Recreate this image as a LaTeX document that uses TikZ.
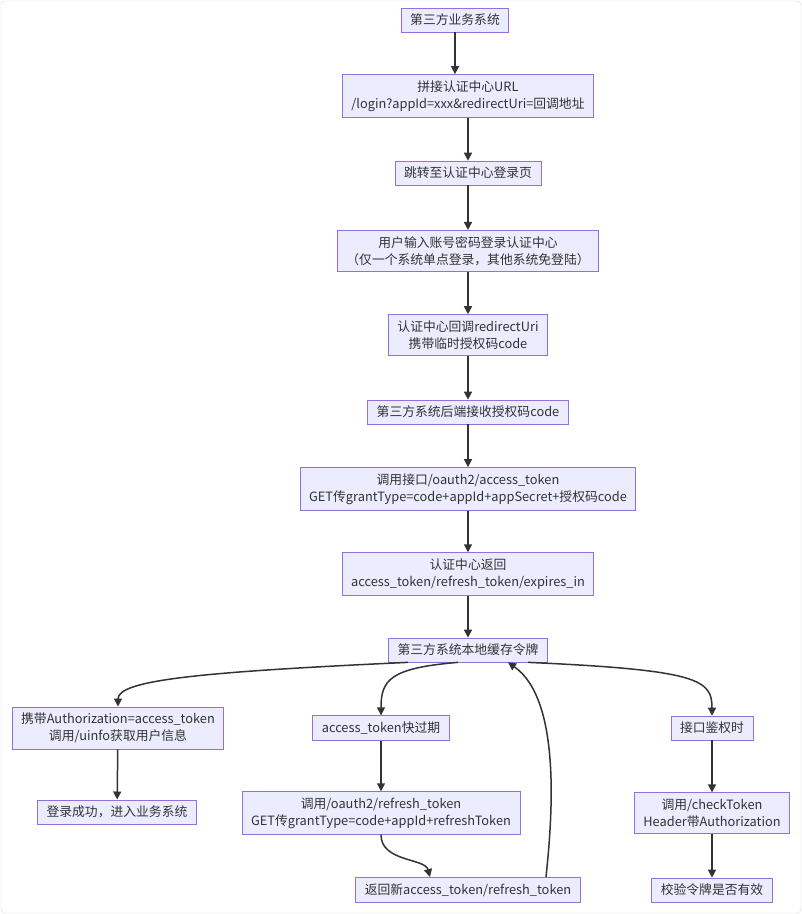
\documentclass[tikz,border=0pt]{standalone}
\usepackage{fontspec}
\setmainfont{Noto Sans CJK SC}
\usetikzlibrary{arrows.meta}
\definecolor{boxfill}{HTML}{ECECFF}
\definecolor{boxline}{HTML}{9370DB}
\definecolor{arr}{HTML}{333333}
\tikzset{
  box/.style={draw=boxline, fill=boxfill, line width=0.8pt, align=center, font=\fontsize{12.8}{17}\selectfont, inner xsep=9pt, inner ysep=6pt, text=arr},
  conn/.style={draw=arr, line width=1.5pt, -{Triangle[length=8pt,width=8pt]}}
}
\begin{document}
\begin{tikzpicture}[x=1pt,y=-1pt]
\useasboundingbox (0,0) rectangle (802,914);
\draw[rounded corners=4pt, draw=gray!30, fill=white] (1,1) rectangle (801,913);
\node[box] (n1) at (455,20) {第三方业务系统};
\node[box] (n2) at (468,96) {拼接认证中心URL\\/login?appId=xxx\&redirectUri=回调地址};
\node[box] (n3) at (468,173) {跳转至认证中心登录页};
\node[box] (n4) at (468,251) {用户输入账号密码登录认证中心\\（仅一个系统单点登录，其他系统免登陆）};
\node[box] (n5) at (468,335) {认证中心回调redirectUri\\携带临时授权码code};
\node[box] (n6) at (468,412) {第三方系统后端接收授权码code};
\node[box] (n7) at (468,489) {调用接口/oauth2/access\_token\\GET传grantType=code+appId+appSecret+授权码code};
\node[box] (n8) at (468,574) {认证中心返回\\access\_token/refresh\_token/expires\_in};
\node[box] (n9) at (468,650) {第三方系统本地缓存令牌};
\node[box] (n10) at (118,728) {携带Authorization=access\_token\\调用/uinfo获取用户信息};
\node[box] (n11) at (381,728) {access\_token快过期};
\node[box] (n12) at (712,728) {接口鉴权时};
\node[box] (n13) at (117,812) {登录成功，进入业务系统};
\node[box] (n14) at (381,813) {调用/oauth2/refresh\_token\\GET传grantType=code+appId+refreshToken};
\node[box] (n15) at (712,813) {调用/checkToken\\Header带Authorization};
\node[box] (n16) at (468,890) {返回新access\_token/refresh\_token};
\node[box] (n17) at (712,890) {校验令牌是否有效};
\path (n16.north) ++(-38,0) coordinate (n16in);
\path (n16.north) ++(78,0) coordinate (n16out);
\path (n9.south) ++(40,0) coordinate (n9in);
\path (n9.south) ++(-60,0) coordinate (n9l);
\path (n9.south) ++(-10,0) coordinate (n9m);
\path (n9.south) ++(60,0) coordinate (n9r);
\draw[conn] (n1) -- (n1 |- n2.north);
\draw[conn] (n2) -- (n3);
\draw[conn] (n3) -- (n4);
\draw[conn] (n4) -- (n5);
\draw[conn] (n5) -- (n6);
\draw[conn] (n6) -- (n7);
\draw[conn] (n7) -- (n8);
\draw[conn] (n8) -- (n9);
\draw[conn] (n9l) .. controls (200,672) and (118,680) .. (n10.north);
\draw[conn] (n9m) .. controls (390,668) and (381,680) .. (n11.north);
\draw[conn] (n9r) .. controls (700,670) and (712,680) .. (n12.north);
\draw[conn] (n10) -- (n13);
\draw[conn] (n11) -- (n14);
\draw[conn] (n12) -- (n15);
\draw[conn] (n15) -- (n17);
\draw[conn] (n14.south) .. controls (381,862) and (425,858) .. (n16in);
\draw[conn] (n16out) .. controls (552,820) and (562,700) .. (n9in);
\end{tikzpicture}
\end{document}
